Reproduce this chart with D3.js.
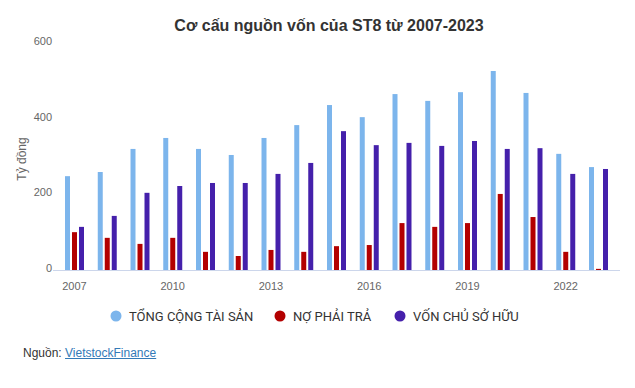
<!DOCTYPE html>
<html>
<head>
<meta charset="utf-8">
<script src="https://cdn.jsdelivr.net/npm/d3@7"></script>
<style>
  body { margin: 0; background: #fff; font-family: "Liberation Sans", Arial, sans-serif; }
  #chart { position: relative; width: 635px; height: 388px; }
  .source { position: absolute; left: 23px; top: 346px; font-size: 12px; color: #333; }
  .source a { color: #337ab7; text-decoration: underline; }
</style>
</head>
<body>
<div id="chart"></div>

<script>
// data (ty dong)
var years = ["2007","2008","2009","2010","2011","2012","2013","2014","2015","2016","2017","2018","2019","2020","2021","2022","2023"];
var tong_tai_san = [248, 259, 320, 349, 320, 304, 349, 383, 436, 404, 465, 447, 470, 526, 468, 307, 272];
var no_phai_tra = [100, 85, 69, 85, 48, 37, 53, 48, 63, 66, 124, 114, 124, 201, 140, 48, 3];
var von_chu_so_huu = [114, 143, 204, 222, 230, 230, 254, 283, 367, 330, 336, 328, 341, 320, 322, 254, 267];

var series_names = ["TỔNG CỘNG TÀI SẢN", "NỢ PHẢI TRẢ", "VỐN CHỦ SỞ HỮU"];
var series_colors = ["#7cb5ec", "#b30000", "#4520ab"];
var y_ticks = [0, 200, 400, 600];
var x_ticks = ["2007", "2010", "2013", "2016", "2019", "2022"];

var all_series = [tong_tai_san, no_phai_tra, von_chu_so_huu];

var width = 635, height = 388;
var plot = {left: 53, right: 620, top: 43, bottom: 270};

var svg = d3.select("#chart").append("svg")
    .attr("width", width)
    .attr("height", height);

var xScale = d3.scaleBand()
    .domain(years)
    .range([58.125, 614.875])
    .paddingInner(0.42)
    .paddingOuter(0.21);

var xInner = d3.scaleBand()
    .domain([0, 1, 2])
    .range([0, xScale.bandwidth()])
    .paddingInner(2/7);

var yScale = d3.scaleLinear()
    .domain([0, 600])
    .range([plot.bottom, plot.top]);

//title
svg.append("text")
    .attr("x", 329)
    .attr("y", 25)
    .attr("dy", "0.35em")
    .attr("text-anchor", "middle")
    .style("font-size", "16px")
    .style("font-weight", "bold")
    .style("fill", "#333")
    .text("Cơ cấu nguồn vốn của ST8 từ 2007-2023");

// y axis label
svg.append("text")
    .attr("text-anchor", "middle")
    .attr("transform", "translate(22,159)rotate(-90)")
    .attr("dy", "0.35em")
    .style("font-size", "12px")
    .style("fill", "#666")
    .text("Tỷ đồng");

// y tick labels
svg.append("g")
    .selectAll("text")
    .data(y_ticks)
    .enter()
    .append("text")
    .attr("x", 52)
    .attr("y", function(d){ return yScale(d) - 2; })
    .attr("dy", "0.35em")
    .attr("text-anchor", "end")
    .style("font-size", "11px")
    .style("fill", "#666")
    .text(function(d){ return d; });

// bars
var groups = svg.append("g")
    .selectAll("g")
    .data(years)
    .enter()
    .append("g")
    .attr("transform", function(d){ return "translate(" + xScale(d) + ",0)"; });

groups.selectAll("rect")
    .data(function(d, i){ return all_series.map(function(s, k){ return {k: k, v: s[i]}; }); })
    .enter()
    .append("rect")
    .attr("x", function(d){ return xInner(d.k); })
    .attr("width", xInner.bandwidth())
    .attr("y", function(d){ return yScale(d.v); })
    .attr("height", function(d){ return yScale(0) - yScale(d.v); })
    .attr("fill", function(d){ return series_colors[d.k]; });

// baseline
svg.append("line")
    .attr("x1", plot.left)
    .attr("x2", plot.right)
    .attr("y1", plot.bottom + 0.5)
    .attr("y2", plot.bottom + 0.5)
    .attr("stroke", "#ccd6eb")
    .attr("stroke-width", 1);

// x tick labels
svg.append("g")
    .selectAll("text")
    .data(x_ticks)
    .enter()
    .append("text")
    .attr("x", function(d){ return xScale(d) + xScale.bandwidth()/2; })
    .attr("y", 286)
    .attr("dy", "0.35em")
    .attr("text-anchor", "middle")
    .style("font-size", "11px")
    .style("fill", "#666")
    .text(function(d){ return d; });

// legend
var legend_x = [116, 280, 400];
var legend = svg.append("g")
    .selectAll("g")
    .data(series_names)
    .enter()
    .append("g")
    .attr("transform", function(d, i){ return "translate(" + legend_x[i] + ",316)"; });

legend.append("circle")
    .attr("r", 5.5)
    .attr("fill", function(d, i){ return series_colors[i]; });

legend.append("text")
    .attr("x", 13)
    .attr("dy", "0.35em")
    .style("font-family", "Roboto, sans-serif")
    .style("font-size", "13px")
    .style("fill", "#333")
    .text(function(d){ return d; });

d3.select("#chart").append("div")
    .attr("class", "source")
    .html('Nguồn: <a href="#">VietstockFinance</a>');
</script>
</body>
</html>
